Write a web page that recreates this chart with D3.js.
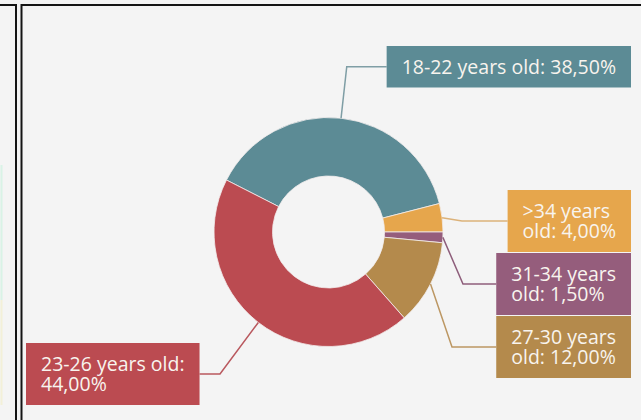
<!DOCTYPE html>
<html>
<head>
<meta charset="utf-8">
<script src="https://cdn.jsdelivr.net/npm/d3@7/dist/d3.min.js"></script>
<style>
  html, body { margin: 0; padding: 0; background: #f4f4f4; }
  svg { display: block; }
  text { font-family: "Open Sans", "Noto Sans", sans-serif; }
</style>
</head>
<body>
<svg id="chart" width="641" height="420"></svg>
<script>
// Age groups in drawing order (clockwise) and their share of respondents, in %
const categories = ["18-22 years old", ">34 years old", "31-34 years old", "27-30 years old", "23-26 years old"];
const shares = [38.5, 4.0, 1.5, 12.0, 44.0];

// Slice / label colours
const palette = {
  "18-22 years old": "#5c8b95",
  ">34 years old": "#e6a64c",
  "31-34 years old": "#955d7c",
  "27-30 years old": "#b48a4c",
  "23-26 years old": "#bb4b51"
};
const leaderColors = {
  "18-22 years old": "#7f9ea5",
  ">34 years old": "#dcb27a",
  "31-34 years old": "#8e5e7b",
  "27-30 years old": "#bc9763",
  "23-26 years old": "#b9585e"
};

// Where each data label box sits: side, box top, elbow x of the leader line, wrap width
const labelLayout = {
  "18-22 years old": { side: "right", top: 46,  elbowX: null, wrap: 260 },
  ">34 years old":   { side: "right", top: 190, elbowX: 462,  wrap: 118 },
  "31-34 years old": { side: "right", top: 253, elbowX: 463,  wrap: 118 },
  "27-30 years old": { side: "right", top: 316, elbowX: 452,  wrap: 118 },
  "23-26 years old": { side: "left",  top: 343, elbowX: 220,  wrap: 175 }
};

const W = 641, H = 420;
const cx = 328.5, cy = 232;
const outerR = 114.5, innerR = 56;
const startDeg = -63;
const fontSize = 19.5, lineStep = 20.5, padX = 15, padY = 10.5;
const rightEdge = 631, leftEdge = 26;

const svg = d3.select("#chart");

// panel frames
svg.append("rect").attr("x", 0).attr("y", 0).attr("width", W).attr("height", H).attr("fill", "#f4f4f4");
// faint traces of the neighbouring visual on the far left
svg.append("line").attr("x1", 1.5).attr("x2", 1.5).attr("y1", 165).attr("y2", 300)
  .attr("stroke", "#d9f3e6").attr("stroke-width", 2);
svg.append("line").attr("x1", 1.5).attr("x2", 1.5).attr("y1", 300).attr("y2", 405)
  .attr("stroke", "#f3f0d8").attr("stroke-width", 2);

const frame = svg.append("g").attr("stroke", "#141414").attr("stroke-width", 2).attr("fill", "none");
frame.append("path").attr("d", `M0,5 H16 V${H}`);
frame.append("path").attr("d", `M21.5,${H} V5 H${W}`);

const fmtNum = d3.formatLocale({ decimal: ",", thousands: ".", grouping: [3], currency: ["", "€"] }).format(".2f");

const data = categories.map((c, i) => ({ category: c, value: shares[i] }));

const pie = d3.pie()
  .value(d => d.value)
  .sort(null)
  .startAngle(startDeg * Math.PI / 180)
  .endAngle(startDeg * Math.PI / 180 + 2 * Math.PI);

const arcs = pie(data);
const arc = d3.arc().innerRadius(innerR).outerRadius(outerR);

const g = svg.append("g").attr("transform", `translate(${cx},${cy})`);
g.selectAll("path.slice")
  .data(arcs)
  .join("path")
  .attr("class", "slice")
  .attr("d", arc)
  .attr("fill", d => palette[d.data.category])
  .attr("stroke", "#f3eded")
  .attr("stroke-width", 0.8);

// leader lines sit under the label boxes
const lineG = svg.append("g");
const labelG = svg.append("g");

arcs.forEach(a => {
  const cat = a.data.category;
  const lay = labelLayout[cat];
  const text = `${cat}: ${fmtNum(a.data.value)}%`;

  // measure & wrap words
  const probe = labelG.append("text").attr("font-size", fontSize);
  const words = text.split(" ");
  const lines = [];
  let cur = "";
  words.forEach(w => {
    const trial = cur ? cur + " " + w : w;
    probe.text(trial);
    if (cur && probe.node().getComputedTextLength() > lay.wrap) {
      lines.push(cur);
      cur = w;
    } else {
      cur = trial;
    }
  });
  if (cur) lines.push(cur);
  const widths = lines.map(l => { probe.text(l); return probe.node().getComputedTextLength(); });
  probe.remove();

  const boxW = d3.max(widths) + 2 * padX;
  const boxH = lines.length * lineStep + 2 * padY;
  const boxX = lay.side === "right" ? rightEdge - boxW : leftEdge;
  const boxY = lay.top;
  const midY = boxY + boxH / 2;

  // leader: slice mid-angle on outer rim -> elbow -> box edge
  const mid = (a.startAngle + a.endAngle) / 2;
  const ax = cx + outerR * Math.sin(mid);
  const ay = cy - outerR * Math.cos(mid);
  let ex, ey = midY;
  if (lay.elbowX === null) {
    // follow the radial direction up to the box's centre line
    const t = (cy - midY) / Math.cos(mid);
    ex = cx + t * Math.sin(mid);
  } else {
    ex = lay.elbowX;
  }
  const endX = lay.side === "right" ? boxX : boxX + boxW;
  lineG.append("path")
    .attr("d", d3.line()([[ax, ay], [ex, ey], [endX, ey]]))
    .attr("fill", "none")
    .attr("stroke", leaderColors[cat])
    .attr("stroke-width", 1.5);

  labelG.append("rect")
    .attr("x", boxX).attr("y", boxY)
    .attr("width", boxW).attr("height", boxH)
    .attr("fill", palette[cat]);

  const capH = fontSize * 0.72;
  const firstBase = midY - (lines.length - 1) * lineStep / 2 + capH / 2;
  lines.forEach((l, i) => {
    labelG.append("text")
      .attr("font-size", fontSize)
      .attr("fill", "#f8f4ee")
      .attr("x", boxX + padX)
      .attr("y", firstBase + i * lineStep)
      .text(l);
  });
});
</script>
</body>
</html>
